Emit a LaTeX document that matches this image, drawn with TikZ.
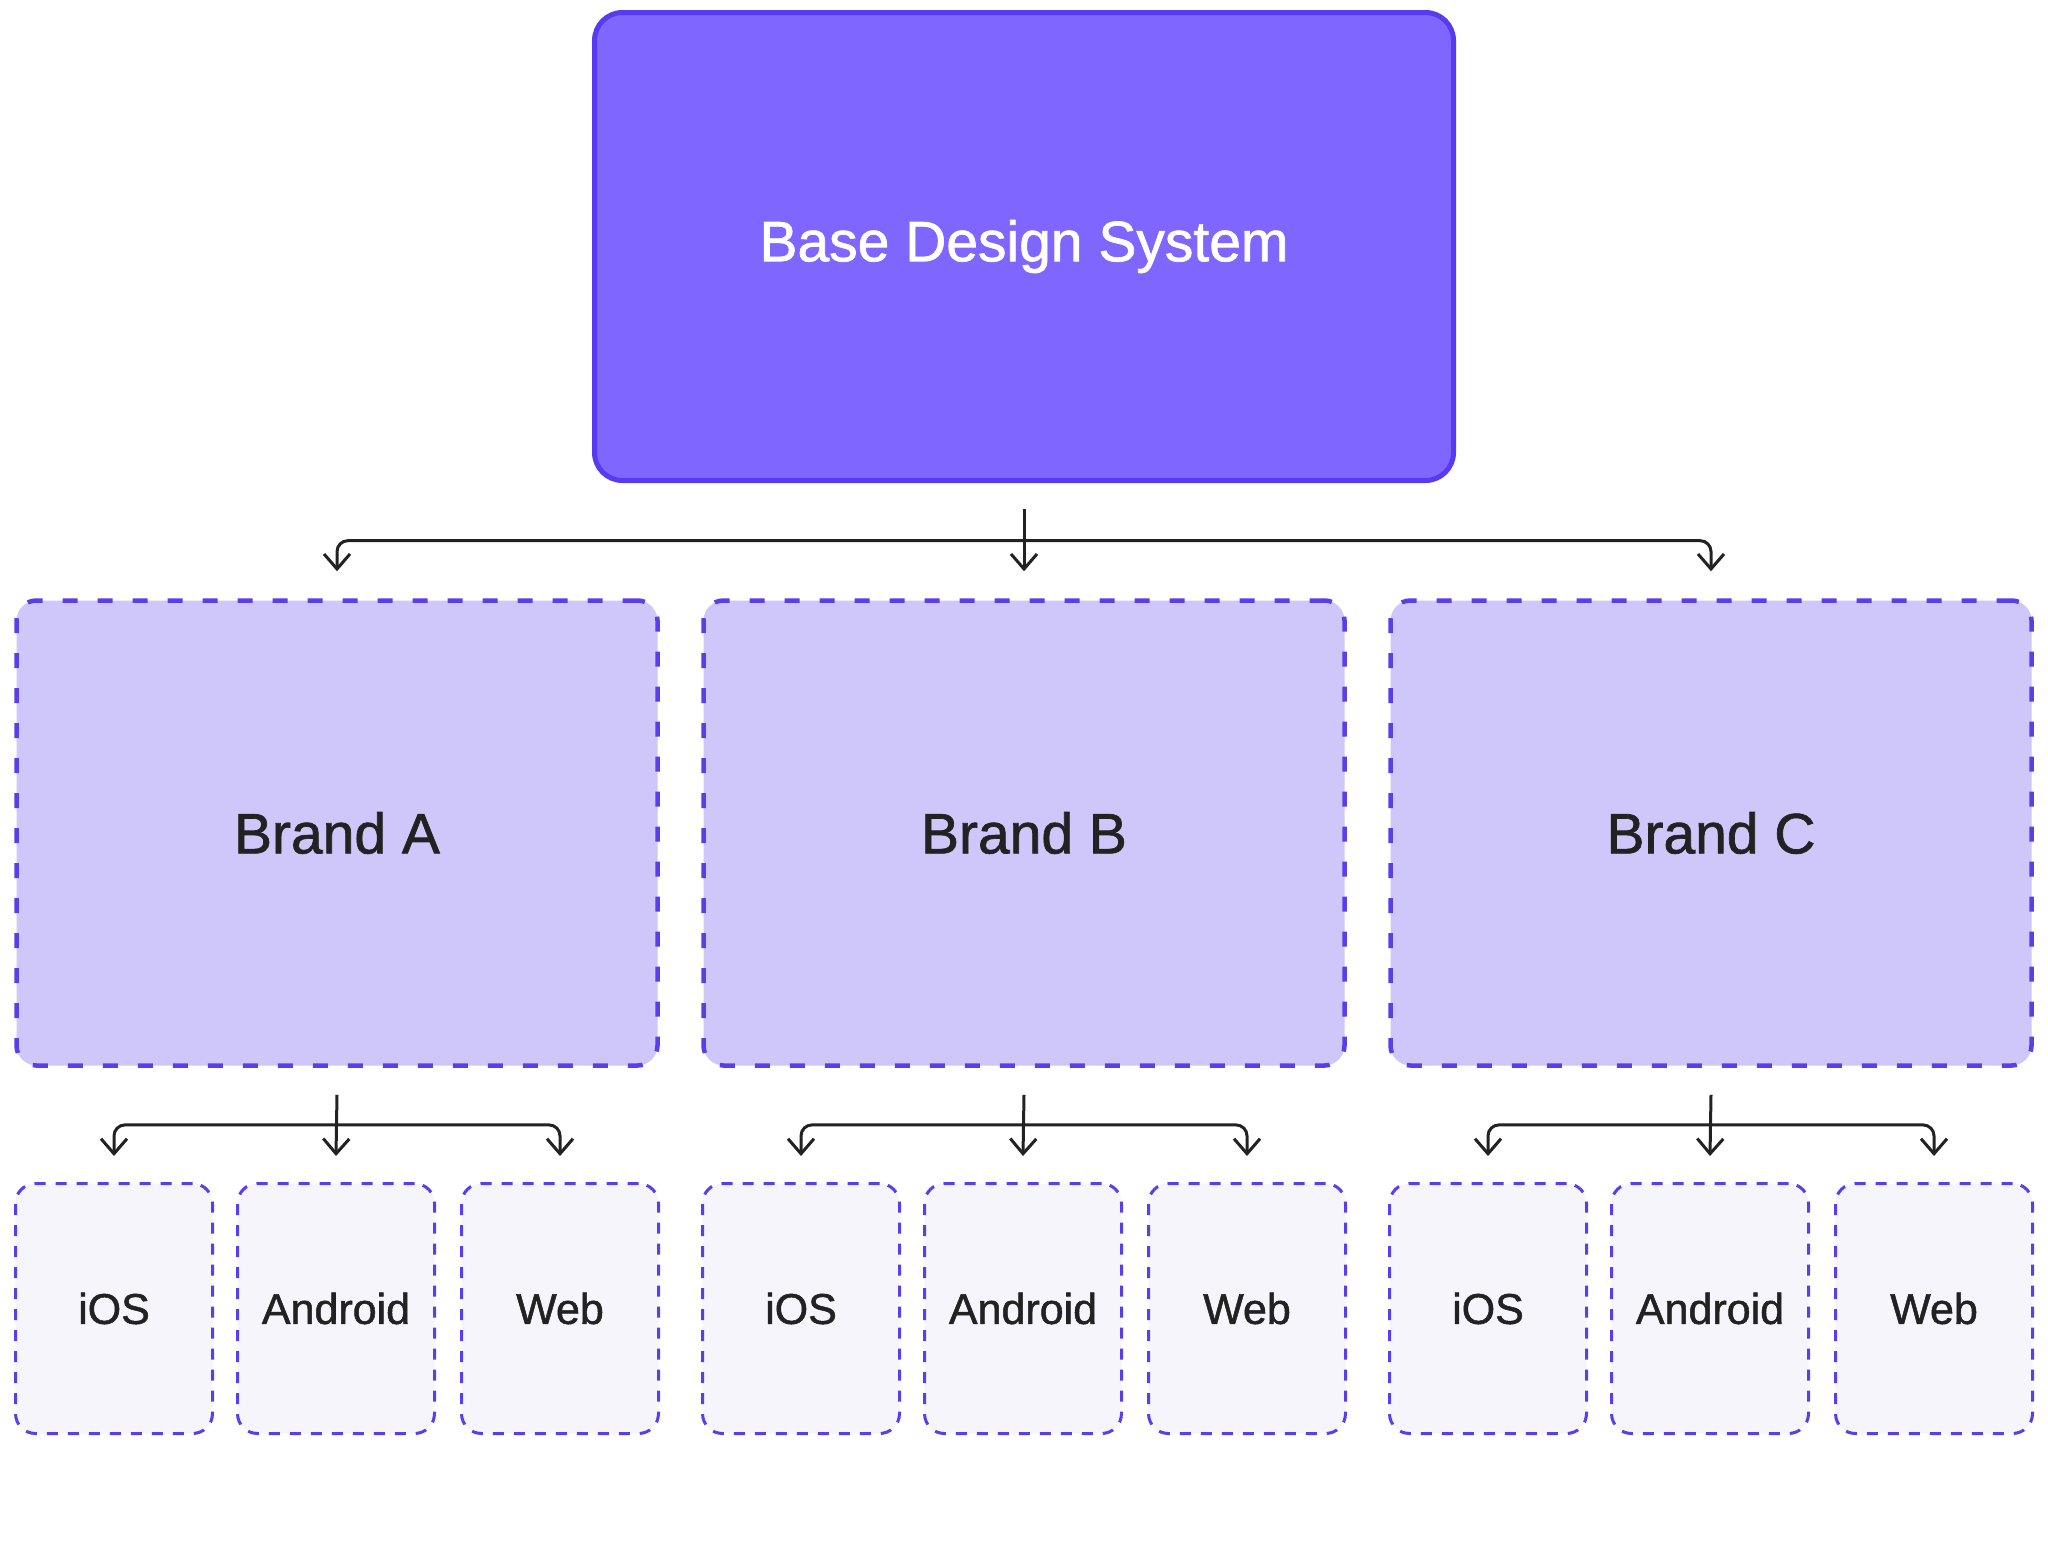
\documentclass[tikz,border=0pt]{standalone}
\usepackage{fontspec}
\usepackage{xcolor}
\usepackage{tikz}
\usetikzlibrary{calc}
\usetikzlibrary{arrows.meta}
\newfontfamily\medfont[BoldFont={Liberation Sans},BoldFeatures={FakeBold=1.2}]{Liberation Sans}

\definecolor{basefill}{RGB}{127,102,255}
\definecolor{baseline}{RGB}{88,58,242}
\definecolor{brandfill}{RGB}{207,199,250}
\definecolor{dashline}{RGB}{91,62,235}
\definecolor{platfill}{RGB}{246,245,252}
\definecolor{inkdark}{RGB}{34,34,34}

\tikzset{
    basebox/.style={draw=baseline, fill=basefill, line width=5pt, rounded corners=28pt,
        minimum width=859pt, minimum height=468pt, text=white,
        font=\medfont\bfseries\fontsize{57}{60}\selectfont},
    brandbox/.style={draw=dashline, fill=brandfill, line width=4.5pt, dash pattern=on 15pt off 20pt,
        rounded corners=20pt, minimum width=641pt, minimum height=465pt, text=inkdark,
        font=\medfont\bfseries\fontsize{57}{60}\selectfont},
    platbox/.style={draw=dashline, fill=platfill, line width=3pt, dash pattern=on 11pt off 10pt,
        rounded corners=20pt, minimum width=197pt, minimum height=250pt, text=inkdark,
        font=\medfont\bfseries\fontsize{43}{46}\selectfont},
    arr/.style={-{Straight Barb[length=15pt,width=26pt]}, line width=3pt, draw=inkdark,
        rounded corners=11pt},
}

\begin{document}
\begin{tikzpicture}[x=1pt,y=-1pt]
        %FRAME
        \fill[white] (0,0) rectangle (2048,1561);
        \useasboundingbox (0,0) rectangle (2048,1561);

        %BASE
        \node[basebox] (base) at (1024,246.5) {Base Design System};

        %BRAND
        \node[brandbox] (brandA) at (337,833) {Brand A};
        \node[brandbox] (brandB) at (1024,833) {Brand B};
        \node[brandbox] (brandC) at (1711,833) {Brand C};

        %PLATFORM
        \node[platbox] (iosA) at (114,1308.5) {iOS};
        \node[platbox] (andA) at (336,1308.5) {Android};
        \node[platbox] (webA) at (560,1308.5) {Web};
        \node[platbox] (iosB) at (801,1308.5) {iOS};
        \node[platbox] (andB) at (1023,1308.5) {Android};
        \node[platbox] (webB) at (1247,1308.5) {Web};
        \node[platbox] (iosC) at (1488,1308.5) {iOS};
        \node[platbox] (andC) at (1710,1308.5) {Android};
        \node[platbox] (webC) at (1934,1308.5) {Web};

        %ARROW BASE
        \coordinate (hub) at ($(base.south)!0.5!(brandB.north)$);
        \draw[arr] ([yshift=-26pt]base.south) -- ([yshift=27pt]brandB.north);
        \draw[arr] (hub) -| ([yshift=27pt]brandA.north);
        \draw[arr] (hub) -| ([yshift=27pt]brandC.north);

        %ARROW BRAND A
        \coordinate (hubA) at ($(brandA.south)!0.5!(andA.north)$);
        \draw[arr] ([yshift=-27pt]brandA.south) -- ([yshift=26pt]andA.north);
        \draw[arr] (hubA) -| ([yshift=26pt]iosA.north);
        \draw[arr] (hubA) -| ([yshift=26pt]webA.north);

        %ARROW BRAND B
        \coordinate (hubB) at ($(brandB.south)!0.5!(andB.north)$);
        \draw[arr] ([yshift=-27pt]brandB.south) -- ([yshift=26pt]andB.north);
        \draw[arr] (hubB) -| ([yshift=26pt]iosB.north);
        \draw[arr] (hubB) -| ([yshift=26pt]webB.north);

        %ARROW BRAND C
        \coordinate (hubC) at ($(brandC.south)!0.5!(andC.north)$);
        \draw[arr] ([yshift=-27pt]brandC.south) -- ([yshift=26pt]andC.north);
        \draw[arr] (hubC) -| ([yshift=26pt]iosC.north);
        \draw[arr] (hubC) -| ([yshift=26pt]webC.north);
    \end{tikzpicture}
\end{document}
